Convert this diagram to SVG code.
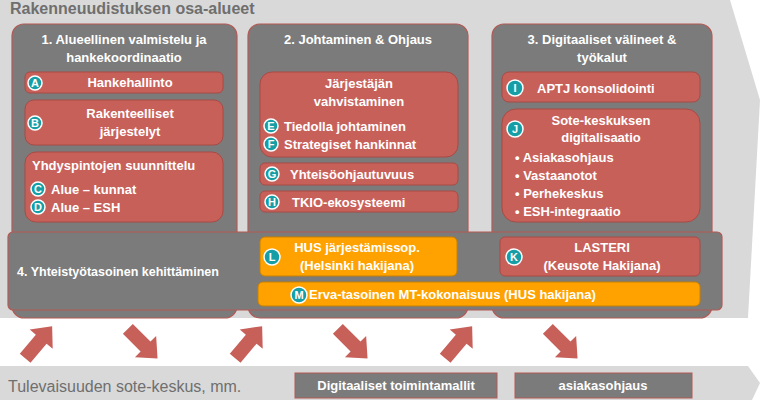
<svg xmlns="http://www.w3.org/2000/svg" width="760" height="400" viewBox="0 0 760 400">
<defs>
<style>
text{font-family:"Liberation Sans",Arial,sans-serif;font-weight:bold;fill:#fff}
.col{fill:#7b7b7b;stroke:#b35a55;stroke-width:1.2}
.red{fill:#c8605a;stroke:#a84a45;stroke-width:1}
.org{fill:#ffa200;stroke:#c98000;stroke-width:1}
.gb{fill:#7b7b7b;stroke:#b35a55;stroke-width:1}
.c{fill:#159ea6;stroke:#fff;stroke-width:1.5}
.ct{font-size:11px;text-anchor:middle}
.t{font-size:13px}
.m{text-anchor:middle}
</style>
<path id="arr" d="M-20,-7 L5,-7 L5,-15 L22,0 L5,15 L5,7 L-20,7 Z" fill="#c8605a"/>
</defs>
<path d="M0,0 L730,0 L760,100 L748,318 L0,318 Z" fill="#d9d9d9"/>
<path d="M0,366 L748,366 L760,383 L752,400 L0,400 Z" fill="#d9d9d9"/>
<text x="10" y="14" style="font-size:16px;fill:#6f6f6f">Rakenneuudistuksen osa-alueet</text>

<g id="col1"><rect class="col" x="12" y="24" width="225" height="294" rx="12"/>
<text class="t m" x="124" y="44">1. Alueellinen valmistelu ja</text><text class="t m" x="124" y="62">hankekoordinaatio</text></g>
<g id="col2"><rect class="col" x="248" y="24" width="220" height="294" rx="12"/>
<text class="t m" x="358" y="44">2. Johtaminen &amp; Ohjaus</text></g>
<g id="col3"><rect class="col" x="492" y="24" width="220" height="294" rx="12"/>
<text class="t m" x="602" y="44">3. Digitaaliset välineet &amp;</text><text class="t m" x="602" y="62">työkalut</text></g>

<g id="A"><rect class="red" x="25" y="72" width="198" height="21" rx="5"/><circle class="c" cx="35" cy="83" r="7"/><text class="ct" x="35" y="87">A</text><text class="t m" x="130" y="87">Hankehallinto</text></g>
<g id="B"><rect class="red" x="25" y="100" width="198" height="45" rx="9"/><circle class="c" cx="35" cy="123" r="7"/><text class="ct" x="35" y="127">B</text><text class="t m" x="130" y="118">Rakenteelliset</text><text class="t m" x="130" y="136">järjestelyt</text></g>
<g id="CD"><rect class="red" x="25" y="152" width="198" height="70" rx="11"/><text class="t" x="32" y="170">Yhdyspintojen suunnittelu</text>
<circle class="c" cx="38" cy="189" r="7"/><text class="ct" x="38" y="193">C</text><text class="t" x="51" y="194">Alue – kunnat</text>
<circle class="c" cx="38" cy="207" r="7"/><text class="ct" x="38" y="211">D</text><text class="t" x="51" y="212">Alue – ESH</text></g>

<g id="EF"><rect class="red" x="260" y="72" width="198" height="85" rx="12"/><text class="t m" x="359" y="88">Järjestäjän</text><text class="t m" x="359" y="106">vahvistaminen</text>
<circle class="c" cx="271" cy="126" r="7"/><text class="ct" x="271" y="130">E</text><text class="t" x="284" y="131">Tiedolla johtaminen</text>
<circle class="c" cx="271" cy="144" r="7"/><text class="ct" x="271" y="148">F</text><text class="t" x="284" y="149">Strategiset hankinnat</text></g>
<g id="G"><rect class="red" x="260" y="163" width="198" height="22" rx="5"/><circle class="c" cx="272" cy="174" r="7"/><text class="ct" x="272" y="178">G</text><text class="t" x="290" y="179">Yhteisöohjautuvuus</text></g>
<g id="H"><rect class="red" x="260" y="191" width="198" height="21" rx="5"/><circle class="c" cx="272" cy="202" r="7"/><text class="ct" x="272" y="206">H</text><text class="t" x="292" y="207">TKIO-ekosysteemi</text></g>

<g id="I"><rect class="red" x="502" y="72" width="198" height="30" rx="7"/><circle class="c" cx="515" cy="88" r="8"/><text class="ct" x="515" y="92">I</text><text class="t" x="537" y="93">APTJ konsolidointi</text></g>
<g id="J"><rect class="red" x="502" y="109" width="198" height="113" rx="14"/><circle class="c" cx="515" cy="129" r="8"/><text class="ct" x="515" y="133">J</text>
<text class="t m" x="601" y="125">Sote-keskuksen</text><text class="t m" x="601" y="142">digitalisaatio</text>
<text class="t" x="515" y="162">•  Asiakasohjaus</text><text class="t" x="515" y="180">•  Vastaanotot</text><text class="t" x="515" y="198">•  Perhekeskus</text><text class="t" x="515" y="216">•  ESH-integraatio</text></g>

<g id="row4"><rect class="col" x="8" y="232" width="714" height="78" rx="5"/><text class="t" x="17" y="276" style="font-size:12.5px">4. Yhteistyötasoinen kehittäminen</text></g>
<g id="L"><rect class="org" x="260" y="237" width="197" height="39" rx="5"/><circle class="c" cx="272" cy="257" r="8"/><text class="ct" x="272" y="261">L</text><text class="t m" x="357" y="252">HUS järjestämissop.</text><text class="t m" x="357" y="270">(Helsinki hakijana)</text></g>
<g id="K"><rect class="red" x="500" y="237" width="200" height="39" rx="5"/><circle class="c" cx="514" cy="257" r="8"/><text class="ct" x="514" y="261">K</text><text class="t m" x="602" y="252">LASTERI</text><text class="t m" x="602" y="270">(Keusote Hakijana)</text></g>
<g id="M"><rect class="org" x="258" y="282" width="442" height="24" rx="5"/><circle class="c" cx="299" cy="295" r="8"/><text class="ct" x="299" y="299">M</text><text class="t" x="309" y="299">Erva-tasoinen MT-kokonaisuus (HUS hakijana)</text></g>

<g id="connectors">
<use href="#arr" transform="translate(38,343) rotate(-50)"/>
<use href="#arr" transform="translate(142,343) rotate(45)"/>
<use href="#arr" transform="translate(248,343) rotate(-50)"/>
<use href="#arr" transform="translate(352,343) rotate(45)"/>
<use href="#arr" transform="translate(458,343) rotate(-50)"/>
<use href="#arr" transform="translate(562,343) rotate(45)"/>
</g>

<text x="8" y="392" style="font-size:16px;font-weight:normal;fill:#6f6f6f">Tulevaisuuden sote-keskus, mm.</text>
<g id="dig"><rect class="gb" x="295" y="373" width="202" height="25"/><text class="t m" x="396" y="390">Digitaaliset toimintamallit</text></g>
<g id="asi"><rect class="gb" x="515" y="373" width="177" height="25"/><text class="t m" x="603" y="390">asiakasohjaus</text></g>
</svg>
